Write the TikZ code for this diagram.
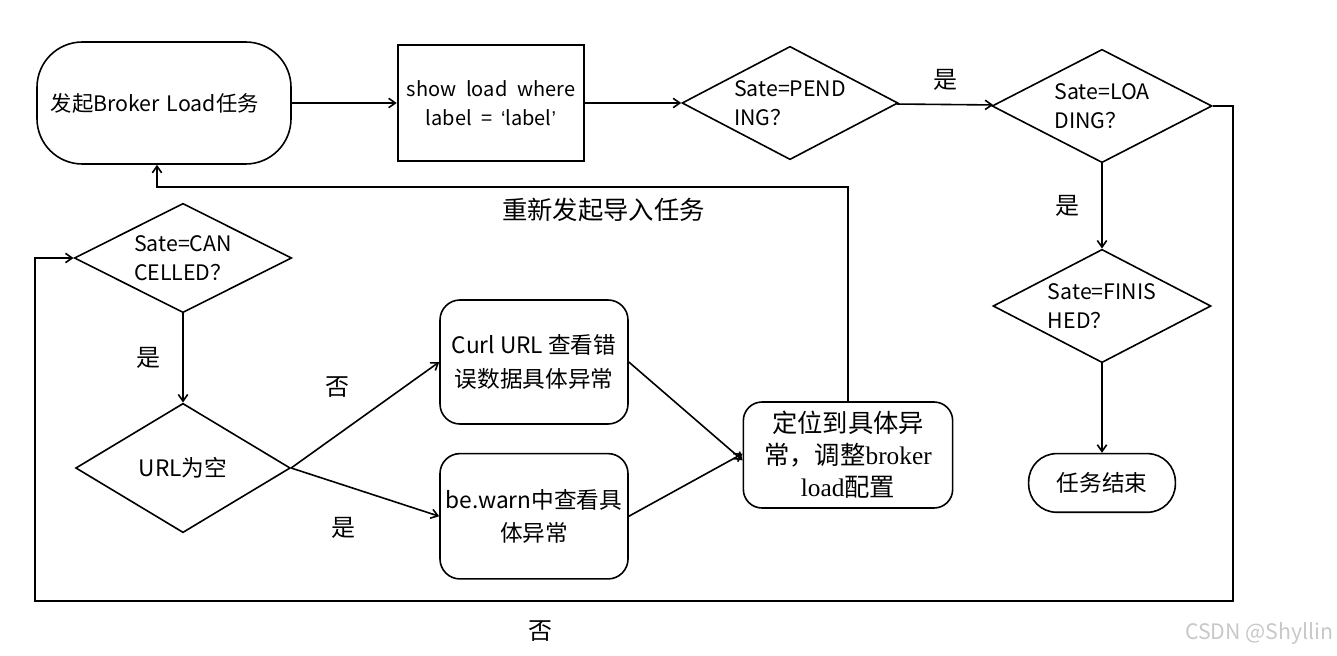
\documentclass[tikz,border=0pt]{standalone}
\usepackage{fontspec}
\setmainfont{Noto Sans CJK SC}
\newfontfamily\serifl{Liberation Serif}
\newfontfamily\latinsans{Liberation Sans}
\usepackage{tikz}
\usetikzlibrary{positioning, shapes.geometric, arrows.meta}
\definecolor{mark-gray}{RGB}{200, 200, 200}

\begin{document}
\begin{tikzpicture}[x=0.75pt, y=-0.75pt]
	\tikzset{pill/.style={rectangle, draw, line width=1.2pt, rounded corners=34pt, align=center, inner sep=0pt}}
	\tikzset{box/.style={rectangle, draw, line width=1.4pt, align=center, inner sep=0pt}}
	\tikzset{rbox/.style={rectangle, draw, line width=1.2pt, rounded corners=15pt, align=center, inner sep=0pt}}
	\tikzset{cond/.style={diamond, draw, line width=1.2pt, aspect=2, align=left, inner sep=0pt, font={\fontsize{16pt}{22pt}\selectfont}}}
	\tikzset{arr/.style={-{Straight Barb[length=5pt, width=7pt]}, line width=1.2pt}}
	\tikzset{lbl/.style={inner sep=0pt, font={\fontsize{18pt}{18pt}\selectfont}}}

	\useasboundingbox (0,0) rectangle (1337,656);

	% top row
	\node[pill, minimum width=190.5pt, minimum height=91.5pt, text width=170pt, align=left, font={\fontsize{16pt}{20pt}\selectfont}] (start) at (164,103) {发起Broker Load任务};
	\node[box, minimum width=140pt, minimum height=87pt, font={\fontsize{15pt}{22pt}\selectfont}] (show) at (491,103)
		{show\hspace{.5em}load\hspace{.5em}where\\label\hspace{.45em}=\hspace{.45em}{\latinsans‘}label{\latinsans’}};
	\node[cond, minimum width=162pt, minimum height=85pt] (pending) at (790,103) {Sate=PEND\\ING？};
	\node[cond, minimum width=165pt, minimum height=85pt] (loading) at (1102,106) {Sate=LOA\\DING？};

	% right column
	\node[cond, minimum width=163.5pt, minimum height=85pt] (finished) at (1102,306) {Sate=FINIS\\HED？};
	\node[pill, rounded corners=21pt, minimum width=110pt, minimum height=44pt, font={\fontsize{17pt}{20pt}\selectfont}, below=67pt of finished] (end) {任务结束};

	% left part
	\node[cond, minimum width=163pt, minimum height=82pt] (cancelled) at (183,258) {Sate=CAN\\CELLED？};
	\node[cond, minimum width=161pt, minimum height=97pt, font={\fontsize{17pt}{20pt}\selectfont}] (url) at (183,468) {URL为空};
	\node[rbox, minimum width=141pt, minimum height=93pt, font={\fontsize{17pt}{25pt}\selectfont}] (curl) at (534,362) {Curl URL 查看错\\误数据具体异常};
	\node[rbox, minimum width=141pt, minimum height=94pt, font={\fontsize{17pt}{25pt}\selectfont}, below=21pt of curl] (bewarn) {be.warn中查看具\\体异常};
	\node[rbox, rounded corners=14pt, minimum width=157pt, minimum height=79.5pt, font={\fontsize{19pt}{24pt}\selectfont}] (target) at (848,455)
		{定位到具体异\\常，调整{\serifl broker}\\{\serifl load}配置};

	\coordinate (loopR) at (1233,601);
	\coordinate (loopL) at (35,601);
	\coordinate (back) at (157,187);

	% connectors
	\draw[arr] (start) -- (show);
	\draw[arr] (show) -- (pending);
	\draw[arr] (pending) -- node[lbl, above=10pt] {是} (loading);
	\draw[arr] (loading) -- node[lbl, left=16pt] {是} (finished);
	\draw[arr] (finished) -- (end);
	\draw[arr] (loading.east) -| (loopR) -- node[lbl, pos=.578, below=14pt] {否} (loopL) |- (cancelled.west);
	\draw[arr] (cancelled) -- node[lbl, left=16pt] {是} (url);
	\draw[arr] (url.east) -- node[lbl, midway, shift={(-28,-28)}] {否} (curl.west);
	\draw[arr] (url.east) -- node[lbl, midway, shift={(-22,36)}] {是} (bewarn.west);
	\draw[arr] (curl.east) -- ([yshift=-4pt]target.west);
	\draw[arr] (bewarn.east) -- ([yshift=1pt]target.west);
	\draw[arr] (target.north) |- node[lbl, pos=.677, below=8pt, font={\fontsize{19pt}{19pt}\selectfont}] {重新发起导入任务} (back) -- (back |- start.south);

	\node[anchor=east, inner sep=0pt, text=mark-gray, font={\fontsize{16pt}{16pt}\selectfont}] (mark) at (1334,633) {CSDN @Shyllin};
\end{tikzpicture}
\end{document}
